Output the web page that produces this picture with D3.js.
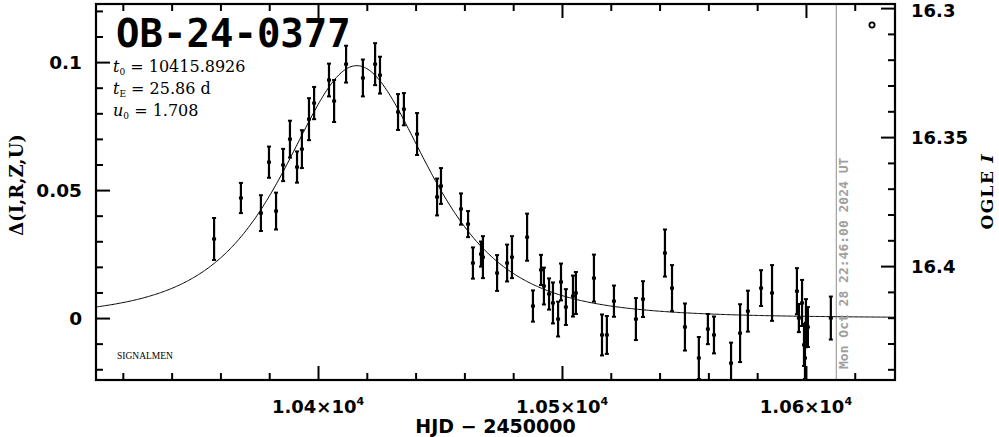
<!DOCTYPE html>
<html><head><meta charset="utf-8">
<script src="https://cdn.jsdelivr.net/npm/d3@7"></script>
<style>body{margin:0;background:#fff}svg{display:block}</style>
</head><body><svg id="c" width="999" height="437"></svg>
<script>
// ---- data ----
const hjd = [10357.4,10368.4,10376.6,10379.9,10382.8,10385.7,10388.5,10391.4,10393.4,10396.3,
  10398.4,10404.5,10406.6,10411.5,10418.4,10423.4,10425.4,10432.8,10435.2,10440.6,
  10448.8,10450.4,10458.6,10461.5,10463.5,10466.8,10467.6,10473.4,10477.5,10479.5,
  10485.7,10488.1,10491.4,10492.6,10494.7,10496.3,10498.4,10499.6,10501.6,10504.5,
  10505.7,10513.1,10516.4,10518.4,10521.3,10530.3,10533.2,10542.2,10545.1,10550.4,
  10556.1,10559.8,10562.3,10569.3,10573.0,10576.2,10581.6,10586.1,10596.3,10597.1,
  10598.4,10599.2,10599.6,10600.0,10600.8,10610.2];
const delta = [0.0309,0.0469,0.0410,0.0609,0.0418,0.0598,0.0699,0.0590,0.0660,0.0777,
  0.0840,0.0930,0.0848,0.0992,0.0938,0.0992,0.0949,0.0805,0.0816,0.0719,
  0.0473,0.0516,0.0426,0.0367,0.0215,0.0250,0.0238,0.0176,0.0215,0.0238,
  0.0316,0.0047,0.0188,0.0125,0.0094,0.0059,-0.0004,0.0141,0.0043,0.0086,
  0.0098,0.0156,-0.0066,-0.0066,0.0066,-0.0004,0.0074,0.0254,0.0117,-0.0035,
  -0.0156,-0.0043,-0.0066,-0.0176,-0.0059,0.0027,0.0117,0.0098,0.0105,0.0000,
  0.0059,-0.0105,-0.0156,-0.0020,-0.0035,0.0000];
const sigma = [0.0082,0.0059,0.0070,0.0061,0.0072,0.0063,0.0072,0.0061,0.0074,0.0082,
  0.0063,0.0064,0.0082,0.0072,0.0072,0.0082,0.0072,0.0070,0.0063,0.0082,
  0.0072,0.0070,0.0061,0.0051,0.0061,0.0049,0.0082,0.0070,0.0072,0.0082,
  0.0092,0.0061,0.0059,0.0072,0.0061,0.0080,0.0068,0.0072,0.0070,0.0080,
  0.0082,0.0092,0.0080,0.0074,0.0061,0.0082,0.0070,0.0092,0.0090,0.0092,
  0.0082,0.0059,0.0072,0.0080,0.0113,0.0080,0.0070,0.0109,0.0090,0.0055,
  0.0090,0.0082,0.0082,0.0094,0.0078,0.0084];

// model parameters (as printed on the chart)
const eventName = "OB-24-0377";
const t0 = 10415.8926, tE = 25.86, u0 = 1.708;
const blend = 1.042;

const xDomain = [10309, 10636.5];
const yDomain = [-0.0242, 0.1227];
const xMajor = [10400, 10500, 10600];
const xMajorLabels = ["1.04×10", "1.05×10", "1.06×10"];
const xExponent = "4";
const yMajor = [0, 0.05, 0.1];
const yMajorLabels = ["0", "0.05", "0.1"];
const magMajor = [16.3, 16.35, 16.4];
const magMajorLabels = ["16.3", "16.35", "16.4"];
const magCalMag = [16.3, 16.4];
const magCalDelta = [0.1211, 0.0203];
const nowHJD = 10612.45;
const dateLabel = "Mon Oct 28 22:46:00 2024 UT";

// ---- layout ----
const L = 96, R = 895, T = 4, B = 380;
const svg = d3.select("#c");
const x = d3.scaleLinear().domain(xDomain).range([L, R]);
const y = d3.scaleLinear().domain(yDomain).range([B, T]);
const ym = d3.scaleLinear().domain(magCalMag).range(magCalDelta.map(y));

const r2 = v => Math.round(v * 1000) / 1000;
const xMinor = d3.range(10320, 10640, 20).filter(v => !xMajor.includes(v));
const yMinor = d3.range(-2, 13, 1).map(v => r2(v / 100)).filter(v => !yMajor.includes(v));
const magMinor = d3.range(1631, 1645, 1).map(v => r2(v / 100)).filter(v => !magMajor.includes(v));

const tickFont = "'DejaVu Sans', sans-serif";

function ax(gen, tx, ty, vals, size) {
  const g = svg.append("g").attr("transform", `translate(${tx},${ty})`)
    .call(gen.tickValues(vals).tickSizeInner(size).tickSizeOuter(0).tickFormat(""));
  g.select(".domain").remove();
  g.selectAll(".tick line").attr("stroke", "#000").attr("stroke-width", 2);
  return g;
}
// bottom / top
ax(d3.axisBottom(x), 0, B, xMinor, -7);
ax(d3.axisBottom(x), 0, B, xMajor, -14);
ax(d3.axisTop(x), 0, T, xMinor, -7);
ax(d3.axisTop(x), 0, T, xMajor, -14);
// left
ax(d3.axisLeft(y), L, 0, yMinor, -7);
ax(d3.axisLeft(y), L, 0, yMajor, -14);
// right (magnitude)
ax(d3.axisRight(ym), R, 0, magMinor, -7);
ax(d3.axisRight(ym), R, 0, magMajor, -14);

// tick labels
const xl = svg.append("g").selectAll("text").data(xMajor).join("text")
  .attr("x", d => x(d)).attr("y", 413).attr("text-anchor", "middle")
  .attr("font-family", tickFont).attr("font-weight", "bold").attr("font-size", 18);
xl.append("tspan").text((d, i) => xMajorLabels[i]);
xl.append("tspan").attr("font-size", 11).attr("dy", -8).text(xExponent);

svg.append("g").selectAll("text").data(yMajor).join("text")
  .attr("x", 82).attr("y", d => y(d) + 7).attr("text-anchor", "end")
  .attr("font-family", tickFont).attr("font-weight", "bold").attr("font-size", 18.5)
  .text((d, i) => yMajorLabels[i]);

svg.append("g").selectAll("text").data(magMajor).join("text")
  .attr("x", 911).attr("y", d => Math.max(ym(d) + 6.5, 17)).attr("text-anchor", "start")
  .attr("font-family", tickFont).attr("font-weight", "bold").attr("font-size", 18)
  .text((d, i) => magMajorLabels[i]);

// axis titles
svg.append("text").attr("x", (L + R) / 2).attr("y", 433).attr("text-anchor", "middle")
  .attr("font-family", tickFont).attr("font-weight", "bold").attr("font-size", 19)
  .text("HJD − 2450000");
svg.append("text").attr("transform", "translate(23,185) rotate(-90)").attr("text-anchor", "middle")
  .attr("font-family", "'DejaVu Serif', serif").attr("font-weight", "bold").attr("font-size", 18)
  .text("Δ(I,R,Z,U)");
const og = svg.append("text").attr("transform", "translate(993,192) rotate(-90)").attr("text-anchor", "middle")
  .attr("font-family", "'DejaVu Serif', serif").attr("font-weight", "bold").attr("font-size", 17)
  .attr("textLength", 75);
og.append("tspan").text("OGLE ");
og.append("tspan").attr("font-style", "italic").text("I");

// clip
svg.append("clipPath").attr("id", "clip").append("rect")
  .attr("x", L).attr("y", T).attr("width", R - L).attr("height", B - T);
const plot = svg.append("g").attr("clip-path", "url(#clip)");

// current-date line
plot.append("line").attr("x1", x(nowHJD)).attr("x2", x(nowHJD)).attr("y1", T).attr("y2", B)
  .attr("stroke", "#a0a0a0").attr("stroke-width", 1.2);
svg.append("text").attr("transform", `translate(${x(nowHJD) + 12},369) rotate(-90)`)
  .attr("font-family", "'DejaVu Sans Mono', monospace").attr("font-weight", "bold").attr("font-size", 13)
  .attr("fill", "#a0a0a0").text(dateLabel);

// model curve
function amp(t) {
  const tau = (t - t0) / tE;
  const u = Math.sqrt(u0 * u0 + tau * tau);
  return (u * u + 2) / (u * Math.sqrt(u * u + 4));
}
const tGrid = d3.range(xDomain[0], xDomain[1] + 0.5, 0.5);
plot.append("path").datum(tGrid)
  .attr("d", d3.line().x(t => x(t)).y(t => y(blend * (amp(t) - 1))))
  .attr("fill", "none").attr("stroke", "#000").attr("stroke-width", 1);

// data points with error bars
const pts = hjd.map((t, i) => ({ t, d: delta[i], s: sigma[i] }));
const eg = plot.append("g").selectAll("g").data(pts).join("g");
eg.append("line").attr("x1", p => x(p.t)).attr("x2", p => x(p.t))
  .attr("y1", p => y(p.d - p.s)).attr("y2", p => y(p.d + p.s))
  .attr("stroke", "#000").attr("stroke-width", 2.2);
eg.append("line").attr("x1", p => x(p.t) - 2).attr("x2", p => x(p.t) + 2)
  .attr("y1", p => y(p.d + p.s)).attr("y2", p => y(p.d + p.s))
  .attr("stroke", "#000").attr("stroke-width", 2);
eg.append("line").attr("x1", p => x(p.t) - 2).attr("x2", p => x(p.t) + 2)
  .attr("y1", p => y(p.d - p.s)).attr("y2", p => y(p.d - p.s))
  .attr("stroke", "#000").attr("stroke-width", 2);
eg.append("rect").attr("x", p => x(p.t) - 2).attr("y", p => y(p.d) - 1.5)
  .attr("width", 4).attr("height", 3).attr("fill", "#000");

// observatory marker (small circle, top-right)
svg.append("circle").attr("cx", R - 23).attr("cy", 25).attr("r", 2.6)
  .attr("fill", "none").attr("stroke", "#000").attr("stroke-width", 1.8);

// frame
svg.append("rect").attr("x", L).attr("y", T).attr("width", R - L).attr("height", B - T)
  .attr("fill", "none").attr("stroke", "#000").attr("stroke-width", 2.2);

// title and parameters
svg.append("text").attr("x", 116).attr("y", 47)
  .attr("font-family", "'DejaVu Sans Mono', monospace").attr("font-weight", "bold").attr("font-size", 39)
  .text(eventName);

const serif = "'DejaVu Serif', serif";
const params = [
  { v: "t", s: "0", val: " = " + t0.toFixed(4) },
  { v: "t", s: "E", val: " = " + tE.toFixed(2) + " d" },
  { v: "u", s: "0", val: " = " + u0.toFixed(3) }
];
const pt = svg.append("g").selectAll("text").data(params).join("text")
  .attr("x", 113).attr("y", (d, i) => 72 + i * 22)
  .attr("font-family", serif).attr("font-size", 16);
pt.append("tspan").attr("font-style", "italic").text(d => d.v);
pt.append("tspan").attr("font-size", 9).attr("dy", 3).text(d => d.s);
pt.append("tspan").attr("dy", -3).text(d => d.val);

svg.append("text").attr("x", 117).attr("y", 359)
  .attr("font-family", "'Liberation Serif', serif").attr("font-size", 9.5)
  .text("SIGNALMEN");
</script></body></html>
